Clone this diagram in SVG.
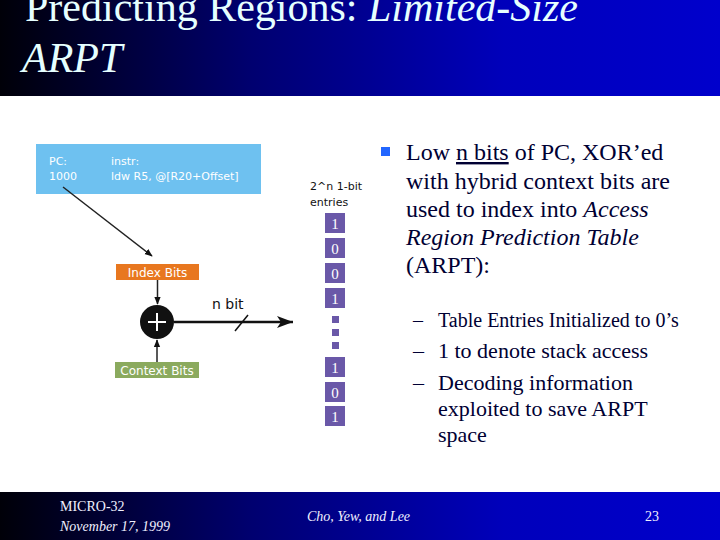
<svg xmlns="http://www.w3.org/2000/svg" width="720" height="540" viewBox="0 0 720 540">
<defs>
<linearGradient id="bar" x1="0" y1="0" x2="1" y2="0">
<stop offset="0" stop-color="#000008"/>
<stop offset="0.35" stop-color="#000070"/>
<stop offset="0.7" stop-color="#0000BB"/>
<stop offset="1" stop-color="#0000CC"/>
</linearGradient>
<marker id="arr" viewBox="0 0 10 10" refX="9" refY="5" markerWidth="8" markerHeight="8" orient="auto" markerUnits="userSpaceOnUse">
<path d="M0,1 L10,5 L0,9 Z" fill="#111"/>
</marker>
<marker id="bigarr" viewBox="0 0 16 12" refX="16" refY="6" markerWidth="16" markerHeight="12" orient="auto" markerUnits="userSpaceOnUse">
<path d="M0,0 L16,6 L0,12 L4,6 Z" fill="#111"/>
</marker>
</defs>
<style>
.title{font-family:"Liberation Serif",serif;font-size:42px;fill:#E6FFFF}
.foot{font-family:"Liberation Serif",serif;font-size:14px;fill:#F0F0FF}
.body{font-family:"Liberation Serif",serif;fill:#000033}
.lab{font-family:"DejaVu Sans",sans-serif;fill:#fff}
.blk{font-family:"DejaVu Sans",sans-serif;fill:#111}
.cell{fill:#6A58A8}
.dig{font-family:"Liberation Serif",serif;font-size:15px;fill:#fff;text-anchor:middle}
.line{stroke:#222;stroke-width:1.5;fill:none}
</style>
<rect width="720" height="540" fill="#fff"/>
<rect x="0" y="0" width="720" height="96" fill="url(#bar)"/>
<rect x="0" y="492" width="720" height="48" fill="url(#bar)"/>
<text class="title" x="25" y="21">Predicting Regions: <tspan font-style="italic">Limited-Size</tspan></text>
<text class="title" x="22" y="72" font-style="italic">ARPT</text>
<text class="foot" x="60" y="511">MICRO-32</text>
<text class="foot" x="60" y="531" font-style="italic">November 17, 1999</text>
<text class="foot" x="307" y="521" font-style="italic">Cho, Yew, and Lee</text>
<text class="foot" x="645" y="521">23</text>

<g id="pc">
<rect x="36" y="144" width="225" height="50" fill="#6EC1F0"/>
<text class="lab" font-size="11" x="49" y="165">PC:</text>
<text class="lab" font-size="11" x="49" y="180">1000</text>
<text class="lab" font-size="11" x="111" y="165">instr:</text>
<text class="lab" font-size="11" x="111" y="180">ldw R5, @[R20+Offset]</text>
</g>
<g id="index-bits">
<rect x="116" y="264" width="83" height="16" fill="#E8771F"/>
<text class="lab" font-size="12" x="157.5" y="276.5" text-anchor="middle">Index Bits</text>
</g>
<g id="xor">
<circle cx="157" cy="322" r="17" fill="#111"/>
<path d="M148,322 H166 M157,313 V331" stroke="#fff" stroke-width="2"/>
</g>
<g id="context-bits">
<rect x="115" y="362" width="84" height="16" fill="#8BAA5E"/>
<text class="lab" font-size="12" x="157" y="374.5" text-anchor="middle">Context Bits</text>
</g>
<g id="table">
<text class="blk" font-size="11" x="310" y="190">2^n 1-bit</text>
<text class="blk" font-size="11" x="310" y="206">entries</text>
<rect class="cell" x="325" y="213" width="20" height="20"/>
<rect class="cell" x="325" y="238" width="20" height="20"/>
<rect class="cell" x="325" y="263" width="20" height="20"/>
<rect class="cell" x="325" y="288" width="20" height="20"/>
<rect class="cell" x="332" y="316" width="7" height="7"/>
<rect class="cell" x="332" y="329" width="7" height="7"/>
<rect class="cell" x="332" y="342" width="7" height="7"/>
<rect class="cell" x="325" y="357" width="20" height="20"/>
<rect class="cell" x="325" y="382" width="20" height="20"/>
<rect class="cell" x="325" y="406" width="20" height="20"/>
<text class="dig" x="335" y="228.5">1</text>
<text class="dig" x="335" y="253.5">0</text>
<text class="dig" x="335" y="278.5">0</text>
<text class="dig" x="335" y="303.5">1</text>
<text class="dig" x="335" y="372.5">1</text>
<text class="dig" x="335" y="397.5">0</text>
<text class="dig" x="335" y="421.5">1</text>
</g>
<g id="connectors">
<line class="line" x1="63" y1="187" x2="152" y2="256" marker-end="url(#arr)"/>
<line class="line" x1="157.5" y1="280" x2="157.5" y2="304" marker-end="url(#arr)"/>
<line class="line" x1="157" y1="362" x2="157" y2="340" marker-end="url(#arr)"/>
<line x1="174" y1="322" x2="293" y2="322" stroke="#111" stroke-width="2.5" marker-end="url(#bigarr)"/>
<line x1="235" y1="331" x2="248" y2="315" stroke="#111" stroke-width="1.5"/>
<text class="blk" font-size="14" x="212" y="309">n bit</text>
</g>

<g id="bullets">
<rect x="381" y="147" width="9" height="9" fill="#2266FF"/>
<text class="body" font-size="24" x="406" y="160">Low <tspan text-decoration="underline">n bits</tspan> of PC, XOR’ed</text>
<text class="body" font-size="24" x="406" y="189">with hybrid context bits are</text>
<text class="body" font-size="24" x="406" y="217">used to index into <tspan font-style="italic">Access</tspan></text>
<text class="body" font-size="24" x="406" y="245" font-style="italic">Region Prediction Table</text>
<text class="body" font-size="24" x="406" y="273">(ARPT):</text>
<text class="body" font-size="20" x="413" y="327">–</text>
<text class="body" font-size="20" x="438" y="327">Table Entries Initialized to 0’s</text>
<text class="body" font-size="22" x="413" y="358">–</text>
<text class="body" font-size="22" x="438" y="358">1 to denote stack access</text>
<text class="body" font-size="22" x="413" y="390">–</text>
<text class="body" font-size="22" x="438" y="390">Decoding information</text>
<text class="body" font-size="22" x="438" y="416">exploited to save ARPT</text>
<text class="body" font-size="22" x="438" y="442">space</text>
</g>
</svg>
